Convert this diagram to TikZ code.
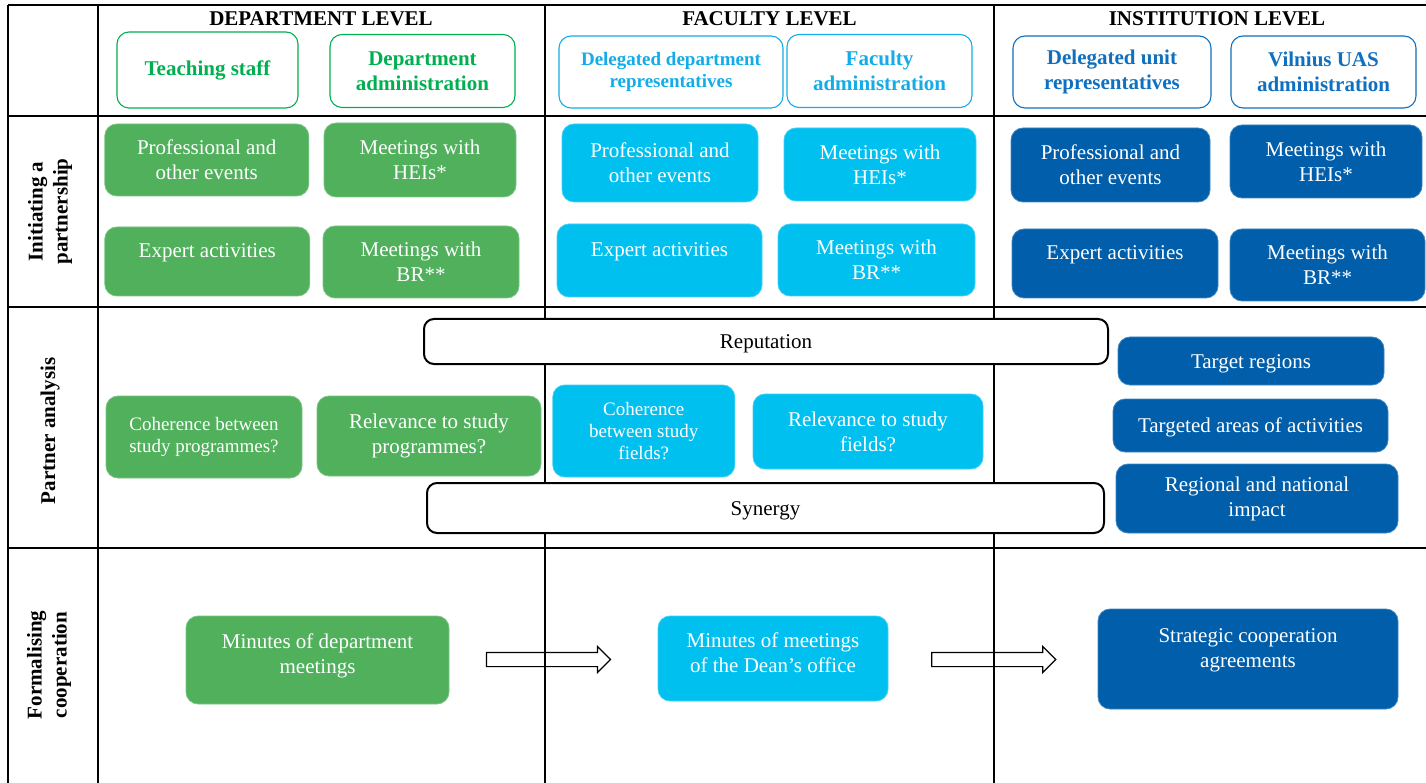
\documentclass[tikz,border=0pt]{standalone}
\usepackage{fontspec}
\setmainfont{Liberation Serif}
\usetikzlibrary{shapes.arrows}

\definecolor{vgreen}{RGB}{80,176,92}
\definecolor{vcyan}{RGB}{0,192,240}
\definecolor{vblue}{RGB}{0,94,170}
\definecolor{hgreen}{RGB}{0,176,80}
\definecolor{hcyan}{RGB}{20,172,232}
\definecolor{hblue}{RGB}{16,112,192}

\newcommand{\bigfont}{\fontsize{21}{25}\selectfont}
\newcommand{\smallfont}{\fontsize{19}{22}\selectfont}

\begin{document}
\begin{tikzpicture}[x=1pt, y=-1pt, every node/.style={font=\bigfont},
	sz/.style 2 args={minimum width=#1pt, minimum height=#2pt},
	oneline/.style={text height=19pt, text depth=4.6pt},
	lvl/.style={font=\bigfont\bfseries, inner sep=0pt},
	rowlbl/.style={rotate=90, align=center, font=\bigfont\bfseries, inner sep=0pt},
	hd/.style={draw, fill=white, rounded corners=12pt, line width=1.1pt, align=center, inner sep=0pt, font=\bigfont\bfseries},
	bx/.style={rounded corners=12pt, text=white, align=center, inner sep=0pt, line width=0.8pt},
	gbx/.style={bx, fill=vgreen, draw=vgreen!75!white},
	cbx/.style={bx, fill=vcyan, draw=vcyan!75!white},
	dbx/.style={bx, fill=vblue, draw=vblue!75!white},
	wbx/.style={draw, fill=white, rounded corners=10pt, line width=2pt, inner sep=0pt},
	blockarr/.style={single arrow, draw, line width=1.2pt, minimum height=124pt, single arrow head extend=6pt, single arrow head indent=0pt, inner xsep=0pt, inner ysep=6.5pt}]
	\useasboundingbox (0,0) rectangle (1426,783);
	% table
	\draw[line width=2pt] (8,5) -- (1426,5);
	\draw[line width=2pt] (8,5) -- (8,783);
	\draw[line width=2pt] (98,5) -- (98,783);
	\draw[line width=1.1pt] (545,5) -- (545,783);
	\draw[line width=1.6pt] (994,5) -- (994,783);
	\foreach \yy in {116,307,548} \draw[line width=2pt] (8,\yy) -- (1426,\yy);
	% levels
	\node[lvl] (deplvl) at (321,19) {DEPARTMENT LEVEL};
	\node[lvl] (faclvl) at (769.5,19) {FACULTY LEVEL};
	\node[lvl] (inslvl) at (1217,19) {INSTITUTION LEVEL};
	\node[rowlbl] (initlbl) at (50,211.5) {Initiating a\\partnership};
	\node[rowlbl] (analbl) at (50,431) {Partner analysis};
	\node[rowlbl] (formlbl) at (49,665) {Formalising\\cooperation};
	% actors
	\node[hd, draw=hgreen, text=hgreen, sz={181}{76}] (teach) at (207.5,70) {Teaching staff};
	\node[hd, draw=hgreen, text=hgreen, sz={185}{73}] (depadm) at (422.5,71) {Department\\administration};
	\node[hd, draw=hcyan, text=hcyan, sz={224}{72}, font=\smallfont\bfseries] (delegdep) at (671,72) {Delegated department\\representatives};
	\node[hd, draw=hcyan, text=hcyan, sz={185}{73}] (facadm) at (879.5,71) {Faculty\\administration};
	\node[hd, draw=hblue, text=hblue, sz={198}{72}] (delegunit) at (1112,72) {Delegated unit\\representatives};
	\node[hd, draw=hblue, text=hblue, sz={185}{72}] (vilnadm) at (1323.5,72) {Vilnius UAS\\administration};
	% initiating a partnership
	\node[gbx, sz={204}{72}] (gpro) at (206.75,160) {Professional and\\other events};
	\node[gbx, sz={192}{74}] (ghei) at (420,160) {Meetings with\\HEIs*};
	\node[gbx, sz={205}{69}] (gexp) at (207.25,261.5) {Expert activities\\[-4pt]\mbox{}};
	\node[gbx, sz={196}{72}] (gbr) at (421,262) {Meetings with\\BR**};
	\node[cbx, sz={196}{78}] (cpro) at (660,163) {Professional and\\other events};
	\node[cbx, sz={192}{73}] (chei) at (880,164.5) {Meetings with\\HEIs*};
	\node[cbx, sz={205}{73}] (cexp) at (659.5,260.5) {Expert activities\\[-4pt]\mbox{}};
	\node[cbx, sz={197}{72}] (cbr) at (876.5,260) {Meetings with\\BR**};
	\node[dbx, sz={199}{74}] (dpro) at (1110.5,165) {Professional and\\other events};
	\node[dbx, sz={192}{73}] (dhei) at (1326,161.5) {Meetings with\\HEIs*};
	\node[dbx, sz={206}{69}] (dexp) at (1115,263.5) {Expert activities\\[-4pt]\mbox{}};
	\node[dbx, sz={195}{72}] (dbr) at (1327.5,265) {Meetings with\\BR**};
	% partner analysis
	\node[wbx, oneline, sz={684}{45}] (reput) at (766,341.5) {Reputation};
	\node[wbx, oneline, sz={677}{50}] (synerg) at (765.5,508) {Synergy};
	\node[gbx, sz={196}{82}, font=\smallfont] (gcoh) at (204,437) {Coherence between\\study programmes?};
	\node[gbx, sz={224}{80}] (grel) at (429,436) {Relevance to study\\programmes?};
	\node[cbx, sz={182}{92}, font=\smallfont] (ccoh) at (643.75,431) {Coherence\\between study\\fields?};
	\node[cbx, sz={230}{75}] (crel) at (868,431.5) {Relevance to study\\fields?};
	\node[dbx, oneline, sz={266}{48}] (dtarg) at (1251,361) {Target regions};
	\node[dbx, oneline, sz={275}{53}] (darea) at (1250.5,425.5) {Targeted areas of activities};
	\node[dbx, sz={282}{69}] (dimp) at (1257,498.5) {Regional and national\\impact};
	% formalising cooperation
	\node[gbx, sz={263}{88}] (gmin) at (317.5,660) {Minutes of department\\meetings\\[-13pt]\mbox{}};
	\node[cbx, sz={230}{85}] (cmin) at (773,658.5) {Minutes of meetings\\of the Dean’s office\\[-13pt]\mbox{}};
	\node[dbx, sz={300}{100}] (dstrat) at (1248,659) {Strategic cooperation\\agreements\\[-4pt]\mbox{}};
	\node[blockarr] (arr1) at (545,659.5) {};
	\node[blockarr] (arr2) at (990.25,659.5) {};
\end{tikzpicture}
\end{document}
